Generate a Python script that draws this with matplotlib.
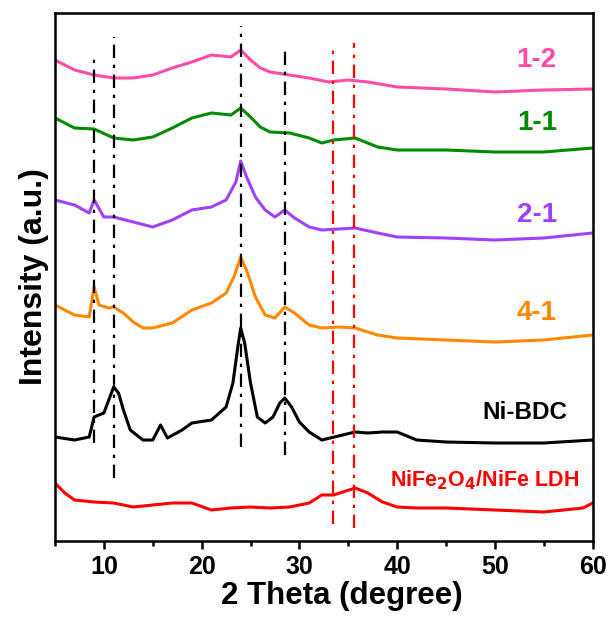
import numpy as np
import matplotlib
matplotlib.use("Agg")
import matplotlib.pyplot as plt

plt.rcParams['font.family'] = ['Liberation Sans', 'DejaVu Sans']
plt.rcParams['font.weight'] = 'bold'

# values (arbitrary intensity units, stacked offsets included)
x_12 = [5, 7, 9, 11, 13, 15, 17, 19, 21, 23, 24, 25, 26, 27, 29, 31, 33, 35, 37, 40, 45, 50, 55, 60]
y_12 = [481, 471, 466, 463, 463, 466, 473, 479, 486, 484, 491, 481, 473, 469, 466, 463, 459, 461, 459, 454, 452, 449, 451, 452]

x_11 = [5, 7, 9, 11, 13, 15, 17, 19, 21, 23, 24, 25, 26, 27, 29, 31, 32.3, 33.5, 35.7, 38, 40, 45, 50, 55, 60]
y_11 = [423, 413, 412, 403, 401, 404, 413, 423, 428, 426, 433, 424, 414, 409, 408, 403, 398, 401, 403, 394, 391, 391, 389, 389, 393]

x_21 = [5, 7, 8.5, 9, 10, 11, 13, 15, 17, 19, 21, 22.5, 23.5, 24, 24.6, 25.5, 26.5, 27.5, 28.5, 29.5, 31, 32.3, 35.7, 38, 40, 45, 50, 55, 60]
y_21 = [341, 336, 328, 341, 324, 324, 319, 314, 321, 331, 334, 341, 359, 380, 364, 344, 331, 324, 331, 323, 314, 311, 313, 308, 304, 303, 301, 303, 308]

x_41 = [5, 7, 8.5, 9, 9.5, 10.5, 11, 12, 13, 14, 15, 17, 19, 21, 22.5, 23.3, 24, 24.7, 25.5, 26.5, 27.5, 28.5, 29.5, 31, 32.3, 34, 35.7, 38, 40, 45, 50, 55, 60]
y_41 = [236, 226, 224, 254, 236, 233, 234, 228, 219, 213, 213, 218, 231, 238, 248, 264, 284, 268, 244, 226, 223, 234, 228, 216, 213, 214, 213, 206, 203, 201, 199, 201, 206]

x_bdc = [5, 7, 8.5, 9, 10, 10.5, 11, 11.5, 12, 12.7, 14, 15, 15.8, 16.5, 18, 19, 21, 22.5, 23.2, 23.7, 24, 24.4, 25, 25.7, 26.5, 27.3, 28, 28.5, 29.2, 30, 31, 32.3, 35.7, 37, 38.5, 40, 42, 45, 50, 55, 60]
y_bdc = [104, 101, 104, 124, 128, 141, 154, 148, 131, 111, 101, 101, 116, 103, 111, 118, 121, 134, 158, 194, 213, 198, 158, 124, 118, 124, 138, 143, 134, 119, 109, 101, 109, 108, 109, 109, 101, 99, 98, 98, 101]

x_ldh = [5, 6, 7, 9, 11, 13, 15, 17, 19, 21, 23, 25, 27, 29, 31, 32.3, 33.5, 35.7, 37, 38.5, 40, 42, 45, 50, 55, 59, 60]
y_ldh = [58, 48, 41, 39, 38, 34, 36, 38, 38, 31, 33, 34, 33, 34, 38, 46, 46, 53, 48, 39, 34, 33, 33, 31, 29, 33, 38]

series = [
    (x_12, y_12, '#FF4DA6', '1-2'),
    (x_11, y_11, '#008A00', '1-1'),
    (x_21, y_21, '#A040F8', '2-1'),
    (x_41, y_41, '#FF8800', '4-1'),
    (x_bdc, y_bdc, 'black', 'Ni-BDC'),
    (x_ldh, y_ldh, '#FF0000', 'NiFe$_2$O$_4$/NiFe LDH'),
]

# reference lines: position, bottom, top
black_marks = [(9, 98, 488), (11, 63, 504), (24, 94, 515), (28.5, 86, 492)]
red_marks = [(33.4, 17, 491), (35.6, 13, 498)]

label_pos = [(536, 481, 20), (536, 418, 20), (536, 326, 20), (536, 228, 20), (524, 129, 17.5), (484, 61, 15.5)]

fig = plt.figure(figsize=(6.11, 6.19), dpi=100)
ax = fig.add_axes([0.09, 0.126, 0.88, 0.853])

for (xs, ys, c, name), (lx, ly, fs) in zip(series, label_pos):
    ax.plot(xs, ys, color=c, lw=2.2)
    ax.text((lx - 55) / 9.76 + 5, ly, name, color=c, fontsize=fs, fontweight='bold',
            ha='center', va='center')

for x0, y0, y1 in black_marks:
    ax.plot([x0, x0], [y0, y1], color='black', lw=1.6, dashes=(6, 3, 1.5, 3))
for x0, y0, y1 in red_marks:
    ax.plot([x0, x0], [y0, y1], color='#FF0000', lw=1.6, dashes=(6, 3, 1.5, 3))

ax.set_xlim(5, 60)
ax.set_ylim(0, 528)
ax.set_xticks([10, 20, 30, 40, 50, 60])
ax.set_xticks(np.arange(5, 61, 5), minor=True)
ax.set_yticks([])
ax.tick_params(axis='x', which='major', direction='out', length=6, width=1.8, labelsize=18, pad=4)
ax.tick_params(axis='x', which='minor', direction='out', length=3.5, width=1.8)
for s in ax.spines.values():
    s.set_linewidth(1.8)
for lab in ax.get_xticklabels():
    lab.set_fontweight('bold')
ax.set_xlabel('2 Theta (degree)', fontsize=22.5, fontweight='bold', labelpad=0)
ax.xaxis.set_label_coords(0.533, -0.075)
ax.set_ylabel('Intensity (a.u.)', fontsize=23, fontweight='bold', labelpad=4)

fig.savefig('out.png', dpi=100)
